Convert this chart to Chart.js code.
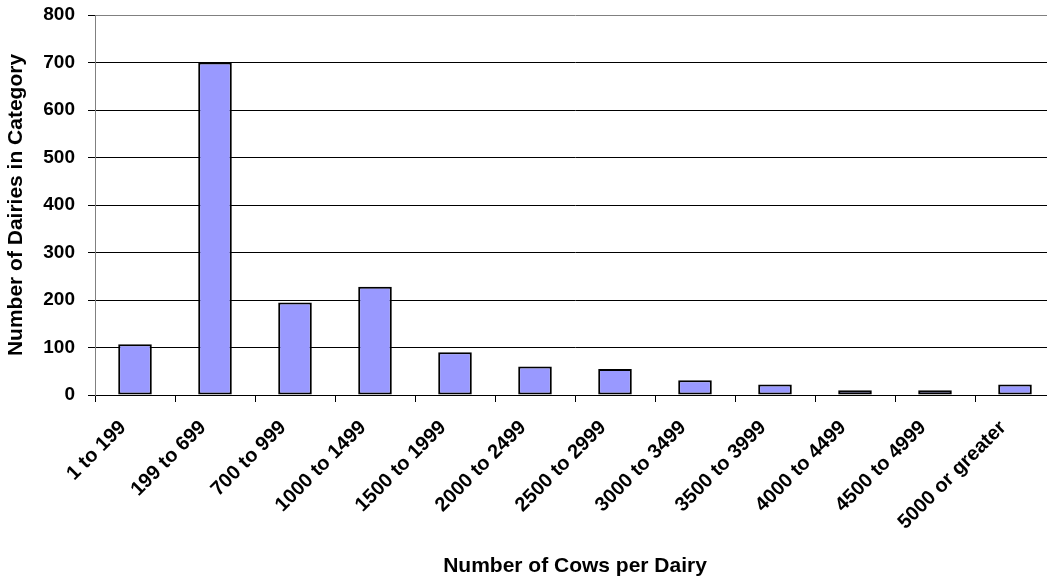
<!DOCTYPE html>
<html>
<head>
<meta charset="utf-8">
<script src="https://cdn.jsdelivr.net/npm/chart.js@4/dist/chart.umd.min.js"></script>
<style>
  html, body { margin: 0; padding: 0; background: #fff; overflow: hidden; }
  #wrap { position: relative; width: 1060px; height: 581px; }
</style>
</head>
<body>
<div id="wrap"><canvas id="chart"></canvas></div>
<script>
// Herd-size categories and the number of dairies in each
const categories = [
  '1 to 199', '199 to 699', '700 to 999', '1000 to 1499', '1500 to 1999',
  '2000 to 2499', '2500 to 2999', '3000 to 3499', '3500 to 3999',
  '4000 to 4499', '4500 to 4999', '5000 or greater'
];
const dairyCounts = [107, 700, 195, 228, 90, 60, 55, 31, 22, 10, 10, 22];
const yTicks = [0, 100, 200, 300, 400, 500, 600, 700, 800];

const FONT = "'Liberation Sans', Arial, Helvetica, sans-serif";

new Chart(document.getElementById('chart'), {
  type: 'bar',
  data: {
    labels: categories,
    datasets: [{
      data: dairyCounts,
      backgroundColor: '#9999FF',
      borderColor: '#000000',
      borderWidth: 2,
      borderSkipped: false,
      categoryPercentage: 1,
      barPercentage: 0.42
    }]
  },
  options: {
    responsive: true,
    maintainAspectRatio: false,
    animation: false,
    events: [],
    layout: { padding: { top: 15, right: 5, bottom: 2, left: 0 } },
    plugins: { legend: { display: false }, tooltip: { enabled: false } },
    scales: {
      x: {
        grid: {
          offset: true,
          drawOnChartArea: false,
          tickLength: 7,
          color: '#000000',
          tickColor: '#000000'
        },
        border: { color: '#000000', width: 1 },
        ticks: {
          autoSkip: false,
          minRotation: 45,
          maxRotation: 45,
          padding: 14,
          labelOffset: -12,
          color: '#000000',
          font: { family: FONT, size: 20, weight: 'bold' }
        },
        title: {
          display: true,
          text: 'Number of Cows per Dairy',
          color: '#000000',
          padding: { top: 4, bottom: 0 },
          font: { family: FONT, size: 21, weight: 'bold' }
        },
        afterFit: (scale) => { scale.height = 184; }
      },
      y: {
        min: 0,
        max: 800,
        afterBuildTicks: (scale) => { scale.ticks = yTicks.map(v => ({ value: v })); },
        grid: {
          color: (ctx) => (ctx.tick && ctx.tick.value === 800 ? '#808080' : '#000000'),
          tickColor: '#000000',
          tickLength: 7,
          lineWidth: 1
        },
        border: { color: '#808080', width: 1 },
        ticks: {
          padding: 13,
          color: '#000000',
          font: { family: FONT, size: 19, weight: 'bold' }
        },
        title: {
          display: true,
          text: 'Number of Dairies in Category',
          color: '#000000',
          padding: { top: 4, bottom: 0 },
          font: { family: FONT, size: 21, weight: 'bold' }
        },
        afterFit: (scale) => {
          scale.width = 95;
          // the outer layout padding already leaves room for the end labels
          scale.paddingTop = 0;
          scale.paddingBottom = 0;
        }
      }
    }
  }
});
</script>
</body>
</html>
